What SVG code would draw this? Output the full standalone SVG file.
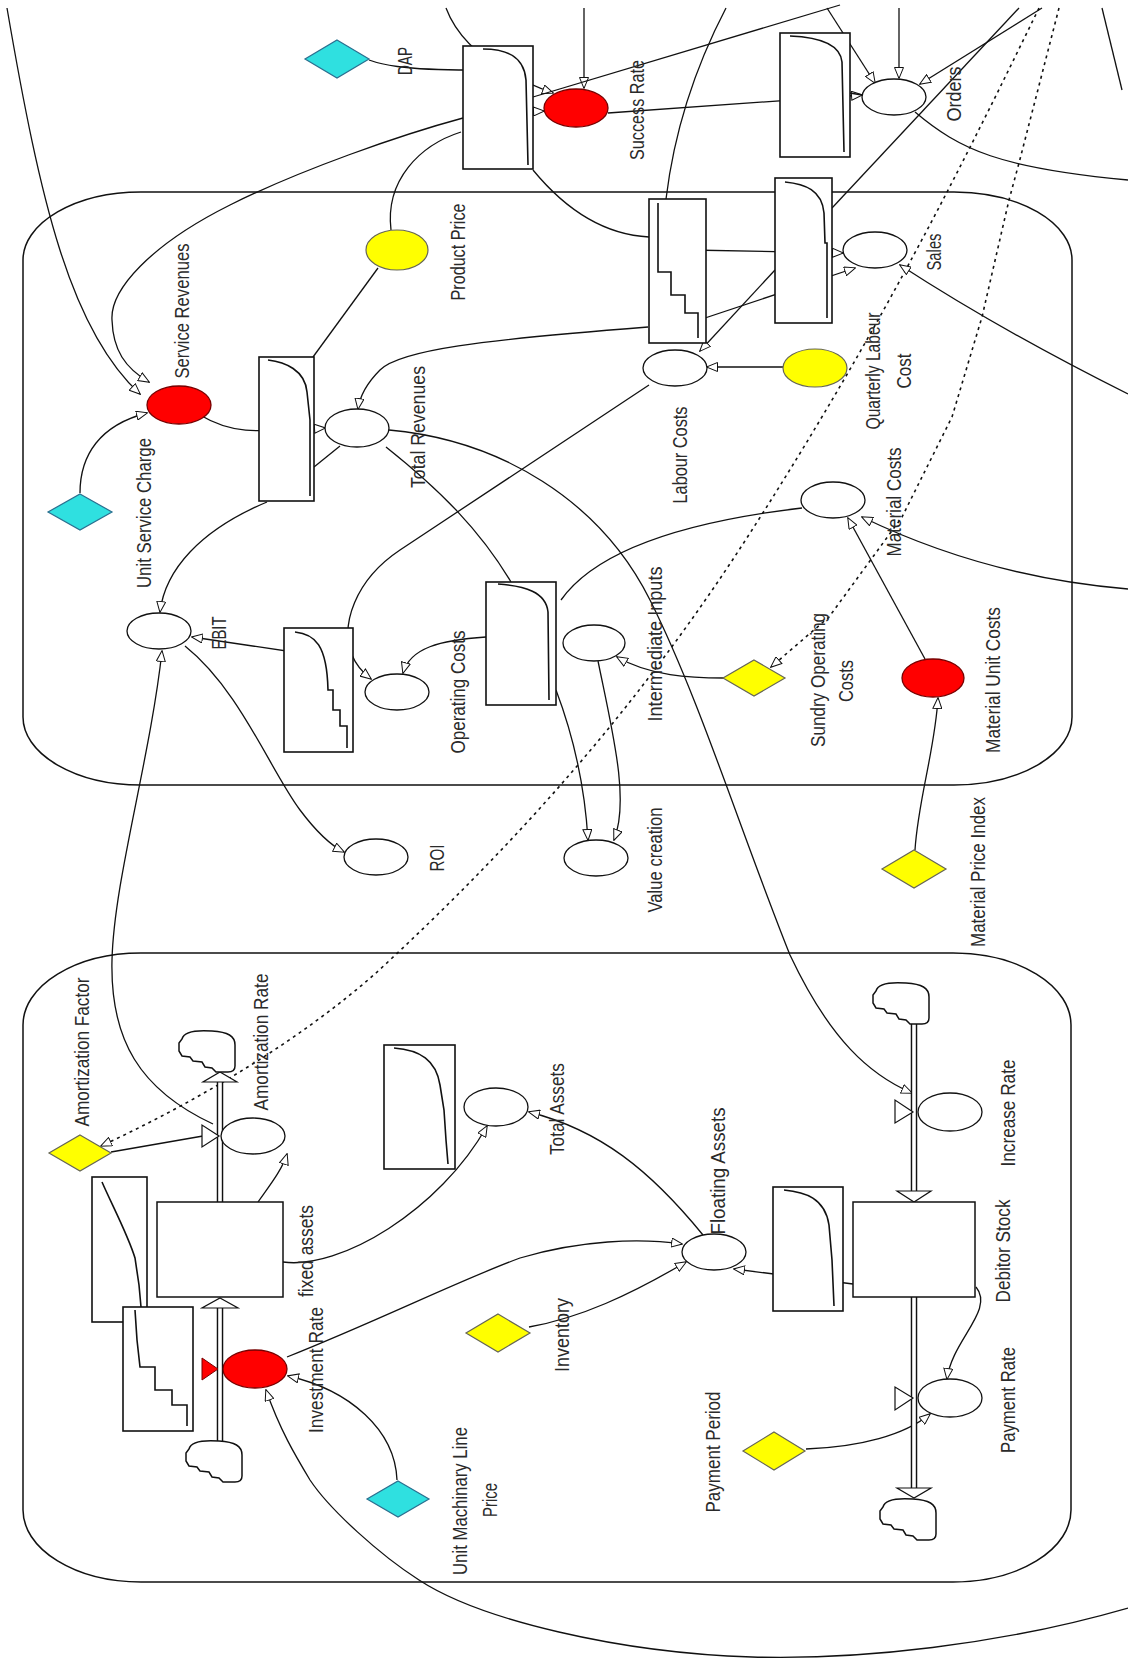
<svg xmlns="http://www.w3.org/2000/svg" xmlns:xlink="http://www.w3.org/1999/xlink" width="1128" height="1663" viewBox="0 0 1128 1663">
<style>
.bg{fill:#fff}
.frame{fill:none;stroke:#111;stroke-width:1.5}
.ln{fill:none;stroke:#111;stroke-width:1.3}
.dot{fill:none;stroke:#111;stroke-width:1.6;stroke-dasharray:3 4}
.aux{fill:#fff;stroke:#111;stroke-width:1.3}
.red{fill:#f00;stroke:#700;stroke-width:1.3}
.yel{fill:#ff0;stroke:#665;stroke-width:1.2}
.cyan{fill:#2fe0e0;stroke:#2a6f8f;stroke-width:1.2}
.box{fill:#fff;stroke:#111;stroke-width:1.6}
.gc{fill:none;stroke:#111;stroke-width:1.6}
.stock{fill:#fff;stroke:#111;stroke-width:1.5}
.pipeo{fill:none;stroke:#111;stroke-width:6.5}
.pipei{fill:none;stroke:#fff;stroke-width:3.6}
.tri{fill:#fff;stroke:#111;stroke-width:1.2}
.cloud{fill:#fff;stroke:#111;stroke-width:1.5}
.lb{font-family:"Liberation Sans",Arial,sans-serif;font-size:21px;fill:#2a2a2a;text-anchor:middle}
</style>
<defs>
<marker id="ah" viewBox="0 0 12 10" refX="11" refY="5" markerWidth="12" markerHeight="10" markerUnits="userSpaceOnUse" orient="auto"><path d="M0.5,0.5 L11.5,5 L0.5,9.5 Z" fill="#fff" stroke="#111" stroke-width="1"/></marker>
<path id="cl" d="M4,9 C6,1 20,0 34,1 C50,2 57,6 57,15 L57,36 C57,41 54,42 50,42 L38,42 L34,38 L27,37 L24,32 L15,31 L12,27 L4,26 L1,21 L1,13 Z"/>
</defs>
<rect class="bg" x="0" y="0" width="1128" height="1663"/>
<g id="frames">
<rect class="frame" x="23" y="192" width="1049" height="593" rx="118" ry="68"/>
<rect class="frame" x="23" y="953" width="1048" height="629" rx="118" ry="72"/>
</g>
<g id="connectors">
<path class="ln" d="M7,8 C40,200 70,330 140,394" marker-end="url(#ah)"/>
<path class="ln" d="M463,118 C400,135 300,170 230,205 C150,245 110,290 112,320 C113,350 125,368 149,382" marker-end="url(#ah)"/>
<path class="ln" d="M369,60 C380,64 400,70 470,70"/>
<path class="ln" d="M446,8 C458,40 490,70 553,93" marker-end="url(#ah)"/>
<path class="ln" d="M584,8 L584,88" marker-end="url(#ah)"/>
<path class="ln" d="M520,112 L544,111" marker-end="url(#ah)"/>
<path class="ln" d="M608,113 L862,95" marker-end="url(#ah)"/>
<path class="ln" d="M533,97 L840,5"/>
<path class="ln" d="M726,8 Q678,100 666,199"/>
<path class="ln" d="M899,8 L899,78" marker-end="url(#ah)"/>
<path class="ln" d="M827,8 L875,83" marker-end="url(#ah)"/>
<path class="ln" d="M1042,8 L920,84" marker-end="url(#ah)"/>
<path class="ln" d="M1019,8 L832,208"/>
<path class="ln" d="M915,112 C960,150 1000,168 1128,180"/>
<path class="dot" d="M1039,8 C960,170 880,330 752,530 C640,705 520,840 376,973 C300,1040 200,1100 101,1146" marker-end="url(#ah)"/>
<path class="dot" d="M1059,8 L1019,163 L1009,200 L982,317 L952,417 L902,517 L829,617 L771,667" marker-end="url(#ah)"/>
<path class="ln" d="M1102,8 L1122,90"/>
<path class="ln" d="M1128,394 Q1000,330 900,265" marker-end="url(#ah)"/>
<path class="ln" d="M1128,589 C1020,580 930,550 862,517" marker-end="url(#ah)"/>
<path class="ln" d="M1128,1608 C1000,1645 860,1660 752,1657 C620,1653 480,1620 419,1580 C380,1555 330,1510 310,1480 C295,1455 280,1430 266,1390" marker-end="url(#ah)"/>
<path class="ln" d="M378,268 L313,357"/>
<path class="ln" d="M391,230 C385,180 420,145 461,132"/>
<path class="ln" d="M533,170 C570,215 610,235 649,237"/>
<path class="ln" d="M690,250 L843,253" marker-end="url(#ah)"/>
<path class="ln" d="M690,323 L855,268" marker-end="url(#ah)"/>
<path class="ln" d="M775,270 L700,351" marker-end="url(#ah)"/>
<path class="ln" d="M200,415 C230,433 250,433 325,428" marker-end="url(#ah)"/>
<path class="ln" d="M314,467 L340,446"/>
<path class="ln" d="M648,327 C480,340 400,350 380,370 C368,382 360,395 358,409" marker-end="url(#ah)"/>
<path class="ln" d="M80,493 C80,455 100,425 147,413" marker-end="url(#ah)"/>
<path class="ln" d="M267,502 C200,530 165,570 160,612" marker-end="url(#ah)"/>
<path class="ln" d="M300,653 L192,637" marker-end="url(#ah)"/>
<path class="ln" d="M185,646 C240,690 270,770 300,810 C315,830 330,845 344,852" marker-end="url(#ah)"/>
<path class="ln" d="M649,385 L400,550 C355,580 340,625 352,655 C356,665 362,672 371,679" marker-end="url(#ah)"/>
<path class="ln" d="M389,430 C500,440 600,500 650,600 C700,700 740,830 790,955 C830,1040 870,1075 912,1093" marker-end="url(#ah)"/>
<path class="ln" d="M386,447 C440,490 480,530 511,582"/>
<path class="ln" d="M486,637 C440,640 410,648 403,673" marker-end="url(#ah)"/>
<path class="ln" d="M556,690 C575,740 585,790 588,840" marker-end="url(#ah)"/>
<path class="ln" d="M598,661 C612,730 630,800 614,840" marker-end="url(#ah)"/>
<path class="ln" d="M802,508 C700,520 600,545 561,600"/>
<path class="ln" d="M724,678 C690,678 650,676 617,657" marker-end="url(#ah)"/>
<path class="ln" d="M925,659 L848,518" marker-end="url(#ah)"/>
<path class="ln" d="M915,850 C918,800 935,750 938,698" marker-end="url(#ah)"/>
<path class="ln" d="M783,367 L707,367" marker-end="url(#ah)"/>
<path class="ln" d="M213,1124 C140,1090 110,1040 112,960 C114,880 150,760 162,651" marker-end="url(#ah)"/>
<path class="ln" d="M111,1152 L203,1136"/>
<path class="ln" d="M258,1202 C270,1185 282,1170 287,1154" marker-end="url(#ah)"/>
<path class="ln" d="M283,1262 C340,1270 440,1210 487,1126" marker-end="url(#ah)"/>
<path class="ln" d="M703,1235 C650,1170 600,1130 529,1112" marker-end="url(#ah)"/>
<path class="ln" d="M287,1357 C380,1320 460,1280 520,1258 C580,1240 640,1238 682,1244" marker-end="url(#ah)"/>
<path class="ln" d="M529,1327 C580,1318 630,1295 686,1262" marker-end="url(#ah)"/>
<path class="ln" d="M853,1284 L734,1269" marker-end="url(#ah)"/>
<path class="ln" d="M397,1480 C395,1430 350,1390 288,1376" marker-end="url(#ah)"/>
<path class="ln" d="M976,1287 C995,1310 952,1340 947,1379" marker-end="url(#ah)"/>
<path class="ln" d="M806,1449 C860,1447 905,1435 930,1414" marker-end="url(#ah)"/>
<path class="ln" d="M850,93 L862,95"/>
</g>
<g id="flows">
<path class="pipeo" d="M220,1082 L220,1202"/><path class="pipei" d="M220,1080 L220,1204"/>
<path class="pipeo" d="M220,1308 L220,1441"/><path class="pipei" d="M220,1306 L220,1443"/>
<path class="pipeo" d="M914,1022 L914,1191"/><path class="pipei" d="M914,1020 L914,1193"/>
<path class="pipeo" d="M914,1297 L914,1489"/><path class="pipei" d="M914,1295 L914,1491"/>
<path class="tri" d="M220,1072 L237,1082 L203,1082 Z"/>
<path class="tri" d="M220,1298 L238,1308 L202,1308 Z"/>
<path class="tri" d="M914,1202 L897,1191 L931,1191 Z"/>
<path class="tri" d="M914,1498 L897,1488 L931,1488 Z"/>
</g>
<g id="cloud-amortization"><use xlink:href="#cl" href="#cl" class="cloud" transform="translate(178,1030)"/></g>
<g id="cloud-investment"><use xlink:href="#cl" href="#cl" class="cloud" transform="translate(185,1440)"/></g>
<g id="cloud-increase"><use xlink:href="#cl" href="#cl" class="cloud" transform="translate(872,982)"/></g>
<g id="cloud-payment"><use xlink:href="#cl" href="#cl" class="cloud" transform="translate(879,1498)"/></g>
<g id="graph-success"><rect class="box" x="463" y="46" width="70" height="123"/><path class="gc" d="M483,49 C505,49 524,55 526,80 L528,165"/></g>
<g id="graph-orders"><rect class="box" x="780" y="33" width="70" height="124"/><path class="gc" d="M790,36 C815,37 840,42 842,62 L844,152"/></g>
<g id="graph-labour"><rect class="box" x="649" y="199" width="57" height="144"/><path class="gc" d="M658,203 L658,272 L671,272 L671,295 L685,295 L685,313 L698,313 L698,338"/></g>
<g id="graph-sales"><rect class="box" x="775" y="178" width="57" height="145"/><path class="gc" d="M785,182 C805,184 822,190 824,213 L825,243 L827,243 L827,318"/></g>
<g id="graph-revenues"><rect class="box" x="259" y="357" width="55" height="144"/><path class="gc" d="M268,360 C285,362 305,370 307,392 L310,420 L310,496"/></g>
<g id="graph-ebit"><rect class="box" x="284" y="628" width="69" height="124"/><path class="gc" d="M295,632 C315,634 327,645 328,690 L333,690 L333,710 L340,710 L340,726 L347,726 L347,748"/></g>
<g id="graph-intermediate"><rect class="box" x="486" y="582" width="70" height="123"/><path class="gc" d="M498,584 C525,586 546,592 548,612 L549,700"/></g>
<g id="graph-totalassets"><rect class="box" x="384" y="1045" width="71" height="124"/><path class="gc" d="M394,1048 C420,1050 436,1060 440,1085 L444,1110 L446,1140 L448,1164"/></g>
<g id="graph-fixed"><rect class="box" x="92" y="1177" width="55" height="145"/><path class="gc" d="M102,1182 C112,1205 128,1235 135,1258 L139,1285 L142,1318"/></g>
<g id="graph-investment"><rect class="box" x="123" y="1307" width="70" height="124"/><path class="gc" d="M135,1310 L137,1340 L140,1367 L155,1367 L155,1390 L172,1390 L172,1405 L187,1405 L187,1426"/></g>
<g id="graph-debitor"><rect class="box" x="773" y="1187" width="70" height="124"/><path class="gc" d="M784,1190 C805,1192 825,1198 829,1225 L832,1260 L834,1306"/></g>
<g id="dap"><path class="cyan" d="M337,40 L369,59 L337,78 L305,59 Z"/><text class="lb" transform="translate(412,61) rotate(-90)" textLength="28" lengthAdjust="spacingAndGlyphs">DAP</text></g>
<g id="success-rate"><ellipse class="red" cx="576" cy="108" rx="32" ry="19"/><text class="lb" transform="translate(644,110) rotate(-90)" textLength="100" lengthAdjust="spacingAndGlyphs">Success Rate</text></g>
<g id="orders"><ellipse class="aux" cx="894" cy="97" rx="32" ry="18"/><text class="lb" transform="translate(961,94) rotate(-90)" textLength="55" lengthAdjust="spacingAndGlyphs">Orders</text></g>
<g id="product-price"><ellipse class="yel" cx="397" cy="250" rx="31" ry="20"/><text class="lb" transform="translate(465,252) rotate(-90)" textLength="97" lengthAdjust="spacingAndGlyphs">Product Price</text></g>
<g id="sales"><ellipse class="aux" cx="875" cy="250" rx="32" ry="18"/><text class="lb" transform="translate(941,252) rotate(-90)" textLength="37" lengthAdjust="spacingAndGlyphs">Sales</text></g>
<g id="quarterly-labour-cost"><ellipse class="yel" cx="815" cy="368" rx="32" ry="19"/><text class="lb" transform="translate(880,371) rotate(-90)" textLength="117" lengthAdjust="spacingAndGlyphs">Quarterly Labeur</text><text class="lb" transform="translate(911,371) rotate(-90)" textLength="35" lengthAdjust="spacingAndGlyphs">Cost</text></g>
<g id="labour-costs"><ellipse class="aux" cx="675" cy="368" rx="32" ry="18"/><text class="lb" transform="translate(687,455) rotate(-90)" textLength="97" lengthAdjust="spacingAndGlyphs">Labour Costs</text></g>
<g id="service-revenues"><ellipse class="red" cx="179" cy="405" rx="32" ry="19"/><text class="lb" transform="translate(189,311) rotate(-90)" textLength="135" lengthAdjust="spacingAndGlyphs">Service Revenues</text></g>
<g id="total-revenues"><ellipse class="aux" cx="357" cy="428" rx="32" ry="19"/><text class="lb" transform="translate(425,427) rotate(-90)" textLength="122" lengthAdjust="spacingAndGlyphs">Total Revenues</text></g>
<g id="unit-service-charge"><path class="cyan" d="M80,494 L112,512 L80,530 L48,512 Z"/><text class="lb" transform="translate(151,513) rotate(-90)" textLength="150" lengthAdjust="spacingAndGlyphs">Unit Service Charge</text></g>
<g id="ebit"><ellipse class="aux" cx="159" cy="631" rx="32" ry="18"/><text class="lb" transform="translate(226,633) rotate(-90)" textLength="33" lengthAdjust="spacingAndGlyphs">EBIT</text></g>
<g id="operating-costs"><ellipse class="aux" cx="397" cy="692" rx="32" ry="18"/><text class="lb" transform="translate(465,692) rotate(-90)" textLength="123" lengthAdjust="spacingAndGlyphs">Operating Costs</text></g>
<g id="intermediate-inputs"><ellipse class="aux" cx="594" cy="643" rx="31" ry="18"/><text class="lb" transform="translate(662,644) rotate(-90)" textLength="155" lengthAdjust="spacingAndGlyphs">Intermediate Inputs</text></g>
<g id="material-costs"><ellipse class="aux" cx="833" cy="500" rx="32" ry="18"/><text class="lb" transform="translate(901,502) rotate(-90)" textLength="109" lengthAdjust="spacingAndGlyphs">Material Costs</text></g>
<g id="sundry-operating-costs"><path class="yel" d="M754,660 L785,678 L754,696 L723,678 Z"/><text class="lb" transform="translate(825,680) rotate(-90)" textLength="134" lengthAdjust="spacingAndGlyphs">Sundry Operating</text><text class="lb" transform="translate(853,681) rotate(-90)" textLength="42" lengthAdjust="spacingAndGlyphs">Costs</text></g>
<g id="material-unit-costs"><ellipse class="red" cx="933" cy="678" rx="31" ry="19"/><text class="lb" transform="translate(1000,680) rotate(-90)" textLength="146" lengthAdjust="spacingAndGlyphs">Material Unit Costs</text></g>
<g id="material-price-index"><path class="yel" d="M914,850 L946,869 L914,888 L882,869 Z"/><text class="lb" transform="translate(985,872) rotate(-90)" textLength="150" lengthAdjust="spacingAndGlyphs">Material Price Index</text></g>
<g id="roi"><ellipse class="aux" cx="376" cy="857" rx="32" ry="18"/><text class="lb" transform="translate(444,858) rotate(-90)" textLength="27" lengthAdjust="spacingAndGlyphs">ROI</text></g>
<g id="value-creation"><ellipse class="aux" cx="596" cy="858" rx="32" ry="18"/><text class="lb" transform="translate(662,860) rotate(-90)" textLength="105" lengthAdjust="spacingAndGlyphs">Value creation</text></g>
<g id="amortization-factor"><path class="yel" d="M80,1135 L111,1153 L80,1171 L49,1153 Z"/><text class="lb" transform="translate(89,1052) rotate(-90)" textLength="149" lengthAdjust="spacingAndGlyphs">Amortization Factor</text></g>
<g id="amortization-rate"><ellipse class="aux" cx="253" cy="1136" rx="32" ry="18"/><path class="tri" d="M202,1125 L202,1147 L219,1136 Z"/><text class="lb" transform="translate(268,1042) rotate(-90)" textLength="137" lengthAdjust="spacingAndGlyphs">Amortization Rate</text></g>
<g id="fixed-assets"><rect class="stock" x="157" y="1202" width="126" height="95"/><text class="lb" transform="translate(313,1251) rotate(-90)" textLength="92" lengthAdjust="spacingAndGlyphs">fixed assets</text></g>
<g id="investment-rate"><ellipse class="red" cx="255" cy="1369" rx="32" ry="19"/><path d="M202,1358 L202,1380 L218,1369 Z" fill="#f00" stroke="#700" stroke-width="1"/><text class="lb" transform="translate(323,1370) rotate(-90)" textLength="126" lengthAdjust="spacingAndGlyphs">Investment Rate</text></g>
<g id="unit-machinary-line-price"><path class="cyan" d="M398,1481 L429,1499 L398,1517 L367,1499 Z"/><text class="lb" transform="translate(467,1501) rotate(-90)" textLength="148" lengthAdjust="spacingAndGlyphs">Unit Machinary Line</text><text class="lb" transform="translate(497,1500) rotate(-90)" textLength="34" lengthAdjust="spacingAndGlyphs">Price</text></g>
<g id="total-assets"><ellipse class="aux" cx="496" cy="1107" rx="32" ry="19"/><text class="lb" transform="translate(564,1109) rotate(-90)" textLength="92" lengthAdjust="spacingAndGlyphs">Total Assets</text></g>
<g id="floating-assets"><ellipse class="aux" cx="714" cy="1252" rx="32" ry="18"/><text class="lb" transform="translate(725,1171) rotate(-90)" textLength="127" lengthAdjust="spacingAndGlyphs">Floating Assets</text></g>
<g id="inventory"><path class="yel" d="M498,1314 L530,1333 L498,1352 L466,1333 Z"/><text class="lb" transform="translate(569,1335) rotate(-90)" textLength="74" lengthAdjust="spacingAndGlyphs">Inventory</text></g>
<g id="payment-period"><path class="yel" d="M774,1432 L805,1451 L774,1470 L743,1451 Z"/><text class="lb" transform="translate(720,1452) rotate(-90)" textLength="121" lengthAdjust="spacingAndGlyphs">Payment Period</text></g>
<g id="debitor-stock"><rect class="stock" x="853" y="1202" width="122" height="95"/><text class="lb" transform="translate(1010,1251) rotate(-90)" textLength="103" lengthAdjust="spacingAndGlyphs">Debitor Stock</text></g>
<g id="increase-rate"><ellipse class="aux" cx="950" cy="1112" rx="32" ry="19"/><path class="tri" d="M895,1100 L895,1123 L913,1112 Z"/><text class="lb" transform="translate(1015,1113) rotate(-90)" textLength="107" lengthAdjust="spacingAndGlyphs">Increase Rate</text></g>
<g id="payment-rate"><ellipse class="aux" cx="950" cy="1398" rx="32" ry="19"/><path class="tri" d="M895,1387 L895,1410 L913,1398 Z"/><text class="lb" transform="translate(1015,1400) rotate(-90)" textLength="106" lengthAdjust="spacingAndGlyphs">Payment Rate</text></g>
</svg>
